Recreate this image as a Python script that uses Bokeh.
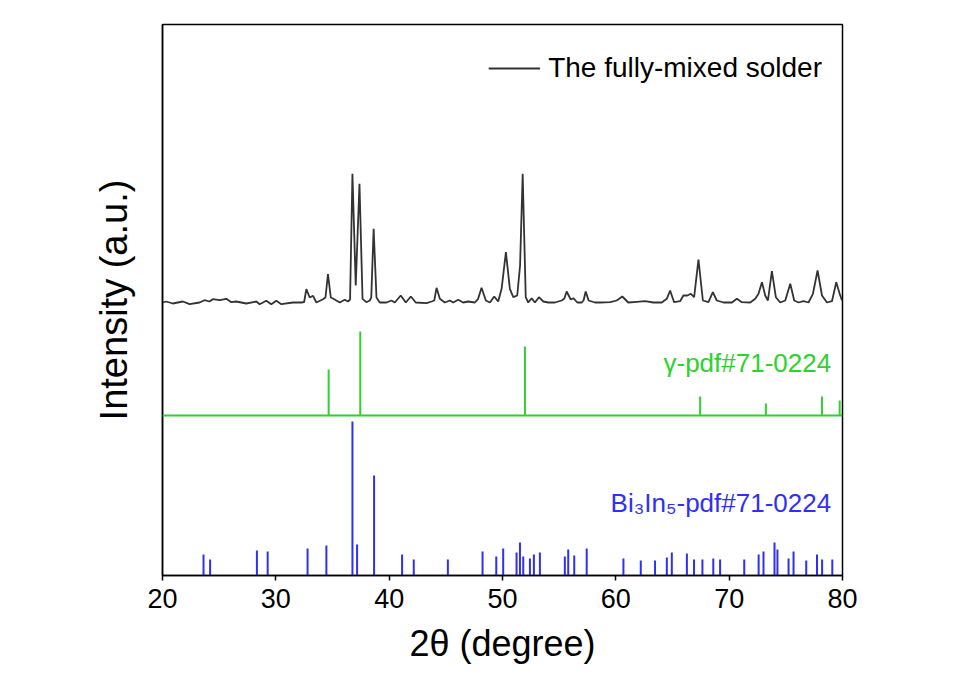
from bokeh.plotting import figure
from bokeh.models import Range1d, FixedTicker, Span, Label, Legend, LegendItem, ColumnDataSource
from bokeh.embed import file_html
from bokeh.resources import INLINE

# ---- data ----
# measured pattern: 2theta (deg) and intensity (a.u., relative to its own baseline)
mix_2theta = [20.0, 20.33, 20.91, 21.8, 22.39, 23.27, 23.71, 24.15, 24.44, 25.04, 25.63, 26.07, 26.51,
              27.39, 28.28, 28.57, 29.16, 29.6, 30.04, 30.49, 31.51, 32.25, 32.5, 32.69, 32.99, 33.28,
              33.58, 34.16, 34.38, 34.6, 34.85, 35.04, 35.34, 35.64, 36.08, 36.37, 36.55, 36.76, 37.05,
              37.38, 37.65, 37.99, 38.29, 38.42, 38.63, 38.88, 39.17, 39.76, 40.2, 40.5, 41.02, 41.47,
              41.91, 42.35, 43.3, 43.74, 43.98, 44.18, 44.47, 44.91, 45.35, 45.65, 46.09, 46.53, 46.97,
              47.56, 47.85, 48.15, 48.53, 48.89, 49.27, 49.62, 49.92, 50.3, 50.65, 50.95, 51.3, 51.55,
              51.78, 52.05, 52.27, 52.57, 52.86, 53.22, 53.6, 54.04, 54.63, 55.22, 55.46, 55.66, 56.02,
              56.25, 56.6, 56.99, 57.15, 57.34, 57.6, 58.16, 58.6, 59.49, 60.08, 60.57, 61.1, 61.84,
              62.58, 63.31, 64.05, 64.5, 64.79, 65.14, 65.67, 65.96, 66.32, 66.62, 66.91, 67.29, 67.68,
              68.17, 68.56, 68.91, 69.5, 70.24, 70.68, 71.12, 71.86, 72.3, 72.59, 72.89, 73.18, 73.42,
              73.77, 74.12, 74.5, 74.95, 75.39, 75.74, 76.12, 76.56, 77.0, 77.39, 77.8, 78.19, 78.63,
              79.07, 79.45, 79.75, 79.96]
mix_int = [0, 1, -1, 1, -1.7, 0, 2.3, 1, 3.3, 2.3, 3.7, 0.3, 1,
           -1, 1, -1.7, 1.7, -1.7, 1.7, -1.7, 0, 0, 0.5, 13.3, 5, 6.7,
           0, 3.3, 5, 28.3, 5, 4, 2, 0, 2.7, 1, 3, 128.7, 17,
           118.7, 3.7, 0.3, 2, 5, 73.7, 5, 0, 0, 2, 0, 7, 0,
           6, 0, -0.7, 1, 2, 14.7, 3.7, 0, 2, 0, 2.7, 0, 1,
           0, 3.7, 14.7, 2, 0, 6, 1, 13.7, 50.3, 13.7, 5.3, 7, 37,
           128.7, 5.3, 0, 4.3, 0, 5.3, 1, 0, 0, 2, 4, 11, 3,
           4.3, 0, 0, 2, 11, 2, 0, 0, 0.3, 2, 6, 0, 0.7,
           1.3, 0, 0, 3.7, 12, 0.3, 1.3, 7, 7, 8.7, 5.3, 43, 2,
           0.3, 10.3, 2, 0, 0, 3.7, 0.3, 0, 3.7, 8.7, 20.3, 7, 2,
           31.3, 5.3, 0, 2, 18.7, 2, 0, 1.3, 0, 8.7, 32, 7, 0,
           1.3, 20.3, 8.7, 2]

# gamma reference pattern
gamma_2theta = [34.66, 37.45, 51.98, 67.44, 73.24, 78.19, 79.75]
gamma_int = [46, 84, 69, 19, 12, 19, 15]

# Bi3In5 reference pattern
bi_2theta = [23.62, 24.2, 28.33, 29.28, 32.8, 34.46, 36.76, 37.17, 38.67, 41.14, 42.17, 45.18, 48.24,
             49.45, 50.06, 51.24, 51.54, 51.83, 52.42, 52.77, 53.3, 55.5, 55.8, 56.33, 57.43, 60.67,
             62.2, 63.46, 64.5, 64.94, 66.27, 66.9, 67.64, 68.6, 69.2, 71.33, 72.6, 73.03, 74.0, 74.26,
             75.24, 75.68, 76.8, 77.75, 78.2, 79.1]
bi_int = [21, 16, 25, 24, 27, 30, 154, 31, 100, 21, 16, 16, 24,
          19, 27, 23, 33, 19, 17, 21, 23, 19, 26, 20, 27, 17,
          15, 15, 18, 23, 22, 16, 16, 17, 16, 16, 21, 24, 33, 26,
          17, 24, 15, 21, 16, 16]

x_ticks = [20, 30, 40, 50, 60, 70, 80]

# vertical offsets of the stacked patterns
MIX_BASE = 273
GAMMA_BASE = 160
BI_BASE = 0

FONT = "Liberation Sans"
GREEN = "#2fd12f"
BLUE = "#3030f5"

p = figure(width=967, height=676, output_backend="svg", toolbar_location=None,
           x_range=Range1d(20, 80), y_range=Range1d(0, 551),
           min_border_left=162, min_border_right=125, min_border_top=24, min_border_bottom=101)
p.grid.visible = False
p.outline_line_color = "black"
p.outline_line_width = 1.5
p.background_fill_color = "white"
p.border_fill_color = "white"

# measured curve
mix_y = [v + MIX_BASE for v in mix_int]
r_mix = p.line(mix_2theta, mix_y, line_color="#333333", line_width=1.8)

# gamma sticks
p.add_layout(Span(location=GAMMA_BASE, dimension="width", line_color=GREEN, line_width=2))
g_src = ColumnDataSource(dict(x=gamma_2theta, y0=[GAMMA_BASE] * len(gamma_int),
                              y1=[GAMMA_BASE + v for v in gamma_int]))
p.segment(x0="x", y0="y0", x1="x", y1="y1", source=g_src, line_color=GREEN, line_width=2)

# Bi3In5 sticks
b_src = ColumnDataSource(dict(x=bi_2theta, y0=[BI_BASE] * len(bi_int),
                              y1=[BI_BASE + v for v in bi_int]))
p.segment(x0="x", y0="y0", x1="x", y1="y1", source=b_src, line_color=BLUE, line_width=2)

# labels
p.add_layout(Label(x=79.0, y=213, text="γ-pdf#71-0224", text_align="right", text_baseline="middle",
                   text_font=FONT, text_font_size="26px", text_color=GREEN))
p.add_layout(Label(x=79.0, y=73, text="Bi₃In₅-pdf#71-0224", text_align="right", text_baseline="middle",
                   text_font=FONT, text_font_size="26px", text_color=BLUE))

legend = Legend(items=[LegendItem(label="The fully-mixed solder", renderers=[r_mix])],
                location="top_right", border_line_alpha=0, background_fill_alpha=0,
                glyph_width=52, glyph_height=48, label_height=48,
                label_text_font=FONT, label_text_font_size="28px", label_text_color="black",
                margin=12, padding=8, label_standoff=8)
p.add_layout(legend)

# axes
xa = p.xaxis[0]
xa.ticker = FixedTicker(ticks=x_ticks)
xa.minor_tick_line_color = None
xa.major_tick_in = 0
xa.major_tick_out = 5
xa.major_tick_line_width = 1.5
xa.axis_line_width = 1.5
xa.major_label_text_font = FONT
xa.major_label_text_font_size = "27px"
xa.major_label_text_color = "black"
xa.major_label_standoff = 8
xa.axis_label = "2θ (degree)"
xa.axis_label_text_font = FONT
xa.axis_label_text_font_size = "36px"
xa.axis_label_text_font_style = "normal"
xa.axis_label_text_color = "black"
xa.axis_label_standoff = 12

ya = p.yaxis[0]
ya.ticker = FixedTicker(ticks=[])
ya.minor_tick_line_color = None
ya.major_tick_line_color = None
ya.major_label_text_font_size = "0px"
ya.axis_line_width = 1.5
ya.axis_label = "Intensity (a.u.)"
ya.axis_label_text_font = FONT
ya.axis_label_text_font_size = "38px"
ya.axis_label_text_font_style = "normal"
ya.axis_label_text_color = "black"
ya.axis_label_standoff = 28

open("out.html", "w").write(file_html(p, INLINE))
